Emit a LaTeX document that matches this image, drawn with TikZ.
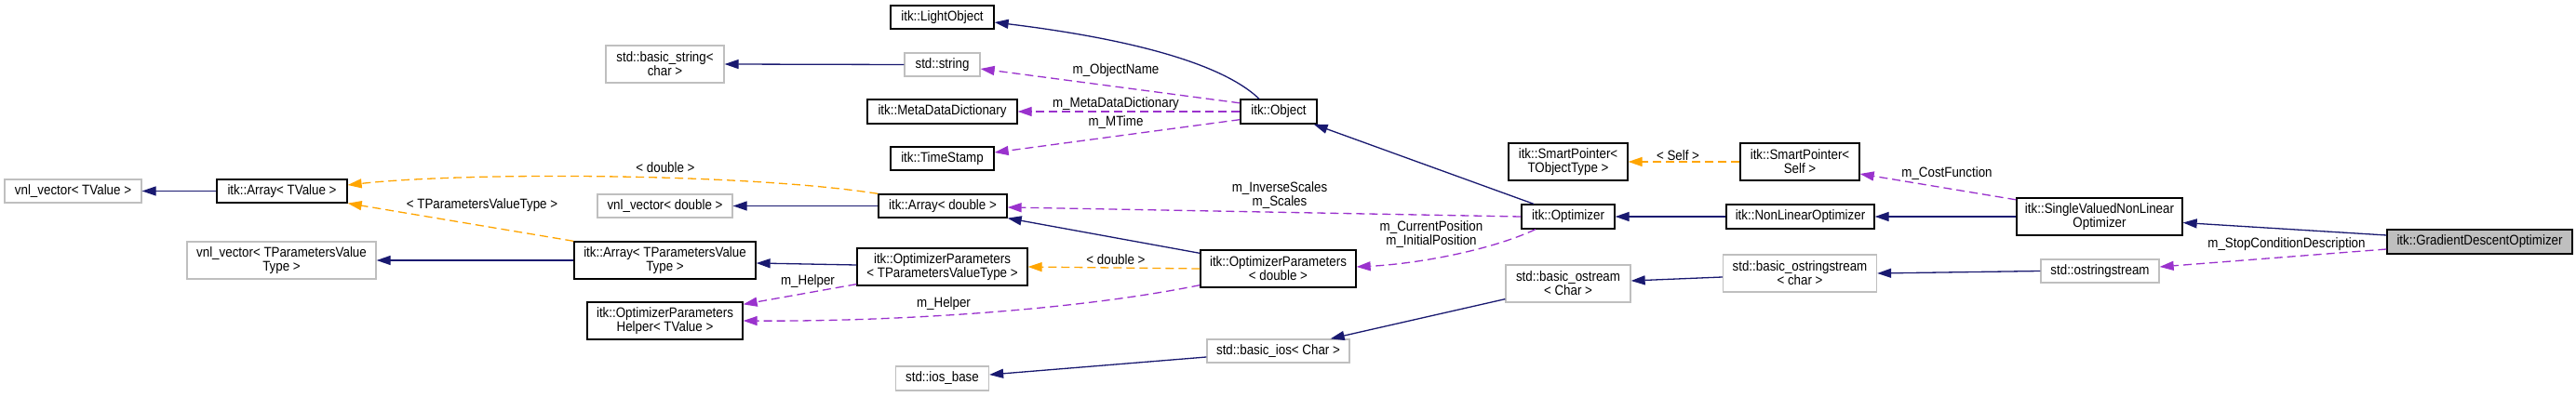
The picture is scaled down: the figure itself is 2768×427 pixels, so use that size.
\documentclass[tikz,border=0pt]{standalone}
\usepackage{fontspec}
\setmainfont{Liberation Sans}[FakeStretch=0.89]
\usetikzlibrary{arrows.meta}
\definecolor{navy}{HTML}{191970}
\definecolor{purp}{HTML}{9A32CD}
\definecolor{orng}{HTML}{FFA500}
\definecolor{lgray}{HTML}{BFBFBF}
\begin{document}
\begin{tikzpicture}[x=1pt,y=-1pt,
  every node/.style={font=\fontsize{15}{15}\selectfont},
  cls/.style={draw=black, fill=white, line width=1.3pt, inner sep=0pt, align=center},
  ext/.style={draw=lgray, fill=white, line width=1.3pt, inner sep=0pt, align=center},
  cur/.style={draw=black, fill=lgray, line width=1.3pt, inner sep=0pt, align=center},
  lbl/.style={inner sep=0pt, align=center},
  inh/.style={draw=navy, line width=1.3pt, -{Triangle[length=15pt,width=10pt,fill=navy]}},
  mem/.style={draw=purp, line width=1.3pt, dash pattern=on 9pt off 5pt, -{Triangle[length=15pt,width=10pt,fill=purp]}},
  tmpl/.style={draw=orng, line width=1.3pt, dash pattern=on 9pt off 5pt, -{Triangle[length=15pt,width=10pt,fill=orng]}}
]
\useasboundingbox[fill=white] (0,0) rectangle (2768,427);

% nodes
\node[ext, minimum width=147pt, minimum height=25pt] (vT) at (78.5,205.5) {vnl\_vector< TValue >};
\node[cls, minimum width=140pt, minimum height=25pt] (aT) at (303,205.5) {itk::Array< TValue >};
\node[ext, minimum width=203pt, minimum height=40pt] (vTP) at (302.5,280) {vnl\_vector< TParametersValue\\Type >};
\node[cls, minimum width=195pt, minimum height=40pt] (aTP) at (714.5,280) {itk::Array< TParametersValue\\Type >};
\node[cls, minimum width=167pt, minimum height=40pt] (hlp) at (714.5,345) {itk::OptimizerParameters\\Helper< TValue >};
\node[ext, minimum width=127pt, minimum height=40pt] (bs) at (714.5,69) {std::basic\_string<\\char >};
\node[ext, minimum width=81pt, minimum height=25pt] (str) at (1012.5,69.5) {std::string};
\node[cls, minimum width=111pt, minimum height=25pt] (lo) at (1012.5,18.5) {itk::LightObject};
\node[cls, minimum width=161pt, minimum height=26pt] (mdd) at (1012.5,120) {itk::MetaDataDictionary};
\node[cls, minimum width=111pt, minimum height=25pt] (ts) at (1012.5,170.5) {itk::TimeStamp};
\node[ext, minimum width=145pt, minimum height=25pt] (vd) at (714.5,221.5) {vnl\_vector< double >};
\node[cls, minimum width=138pt, minimum height=25pt] (ad) at (1013,221.5) {itk::Array< double >};
\node[cls, minimum width=183pt, minimum height=40pt] (opT) at (1012.5,287) {itk::OptimizerParameters\\< TParametersValueType >};
\node[cls, minimum width=167pt, minimum height=40pt] (opd) at (1373.5,289) {itk::OptimizerParameters\\< double >};
\node[cls, minimum width=82pt, minimum height=26pt] (obj) at (1374,120) {itk::Object};
\node[cls, minimum width=100pt, minimum height=26pt] (opt) at (1685,233) {itk::Optimizer};
\node[cls, minimum width=128pt, minimum height=40pt] (spT) at (1685,174) {itk::SmartPointer<\\TObjectType >};
\node[cls, minimum width=128pt, minimum height=40pt] (spS) at (1934,174) {itk::SmartPointer<\\Self >};
\node[cls, minimum width=159pt, minimum height=26pt] (nlo) at (1934.5,233) {itk::NonLinearOptimizer};
\node[cls, minimum width=178pt, minimum height=40pt] (svn) at (2256,233) {itk::SingleValuedNonLinear\\Optimizer};
\node[cur, minimum width=199pt, minimum height=26pt] (gdo) at (2664.5,260) {itk::GradientDescentOptimizer};
\node[ext, minimum width=127pt, minimum height=25pt] (ostr) at (2256.5,291.5) {std::ostringstream};
\node[ext, minimum width=165pt, minimum height=40pt] (bostr) at (1934,294) {std::basic\_ostringstream\\< char >};
\node[ext, minimum width=134pt, minimum height=40pt] (bos) at (1685,305) {std::basic\_ostream\\< Char >};
\node[ext, minimum width=153pt, minimum height=25pt] (bios) at (1373.5,377.5) {std::basic\_ios< Char >};
\node[ext, minimum width=100pt, minimum height=26pt] (iob) at (1012.5,407) {std::ios\_base};

% edges
\draw[inh] (aT.west) -- (vT.east);
\draw[inh] (aTP.west) -- (vTP.east);
\draw[tmpl] (aTP.north west) -- (aT.south east);
\draw[tmpl] (ad.north west) .. controls (800,186) and (500,185) .. ([yshift=6.5pt]aT.east);
\draw[inh] (ad.west) -- (vd.east);
\draw[inh] (str.west) -- (bs.east);
\draw[inh] ([xshift=-21pt]obj.north) .. controls (1310,65) and (1200,40) .. ([yshift=-5.5pt]lo.east);
\draw[mem] ([yshift=-4.5pt]obj.north west) -- ([yshift=-4.5pt]str.east);
\draw[mem] (obj.west) -- (mdd.east);
\draw[mem] ([yshift=5pt]obj.south west) -- ([yshift=6.5pt]ts.east);
\draw[inh] ([yshift=2pt]opT.west) -- ([yshift=-3pt]aTP.east);
\draw[mem] ([yshift=2pt]opT.south west) -- ([yshift=-3pt]hlp.north east);
\draw[mem] ([yshift=3pt]opd.south west) .. controls (1150,335) and (950,346) .. (hlp.east);
\draw[tmpl] (opd.west) -- (opT.east);
\draw[inh] ([yshift=-4pt]opd.north west) -- (ad.south east);
\draw[mem] (opt.west) -- ([yshift=-1.5pt]ad.east);
\draw[mem] ([xshift=-35pt]opt.south) .. controls (1600,270) and (1520,284) .. ([yshift=2pt]opd.east);
\draw[inh] ([xshift=-37pt]opt.north) -- ([xshift=-4pt]obj.south east);
\draw[inh] (nlo.west) -- (opt.east);
\draw[inh] (svn.west) -- (nlo.east);
\draw[mem] ([yshift=-2.5pt]svn.north west) -- ([yshift=-13pt]spS.east);
\draw[tmpl] (spS.west) -- (spT.east);
\draw[inh] ([yshift=7pt]gdo.west) -- ([yshift=-6.5pt]svn.east);
\draw[mem] ([yshift=-8pt]gdo.west) -- ([yshift=4.5pt]ostr.east);
\draw[inh] (ostr.west) -- (bostr.east);
\draw[inh] ([yshift=-4pt]bostr.west) -- ([yshift=3pt]bos.east);
\draw[inh] ([yshift=4pt]bos.south west) -- ([xshift=-21pt]bios.north east);
\draw[inh] ([yshift=-6.5pt]bios.west) -- ([yshift=4pt]iob.east);

% labels
\node[lbl] (l1) at (518,221) {< TParametersValueType >};
\node[lbl] (l2) at (715,180) {< double >};
\node[lbl] (l3) at (1199,76) {m\_ObjectName};
\node[lbl] (l4) at (1199,112) {m\_MetaDataDictionary};
\node[lbl] (l5) at (1199,132) {m\_MTime};
\node[lbl] (l6) at (868,303) {m\_Helper};
\node[lbl] (l7) at (1014,327) {m\_Helper};
\node[lbl] (l8) at (1199,279) {< double >};
\node[lbl] (l9) at (1375,210) {m\_InverseScales\\m\_Scales};
\node[lbl] (l10) at (1538,252) {m\_CurrentPosition\\m\_InitialPosition};
\node[lbl] (l11) at (2092,187) {m\_CostFunction};
\node[lbl] (l12) at (1803,167) {< Self >};
\node[lbl] (l13) at (2457,263) {m\_StopConditionDescription};
\end{tikzpicture}
\end{document}
